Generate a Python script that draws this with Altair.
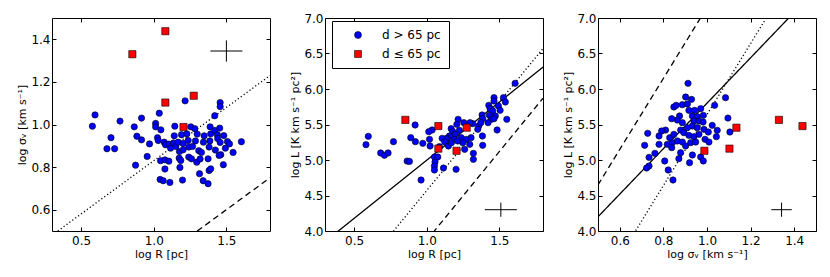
import altair as alt
import numpy as np
import pandas as pd

# ---------------- data ----------------
# Panel 1: log R [pc] vs log sigma_v [km/s], clouds with d > 65 pc
p1_logR = [0.596, 0.578, 0.706, 0.678, 0.731, 0.768, 0.866, 0.884, 0.916, 0.916,
           0.875, 0.955, 0.971, 1.013, 1.013, 1.038, 1.216, 1.049, 1.420, 1.457,
           1.457, 1.026, 1.031, 1.072, 1.081, 1.104, 1.116, 1.136, 1.141, 1.145,
           1.152, 1.168, 1.177, 1.191, 1.202, 1.202, 1.228, 1.237, 1.241, 1.255,
           1.267, 1.283, 1.287, 1.299, 1.310, 1.328, 1.342, 1.347, 1.381, 1.386,
           1.388, 1.392, 1.420, 1.424, 1.438, 1.440, 1.454, 1.457, 1.461, 1.482,
           1.493, 1.507, 1.521, 1.546, 1.603, 1.047, 1.077, 1.104, 1.175, 1.186,
           1.241, 1.260, 1.296, 1.319, 1.374, 1.450, 1.479, 1.077, 1.180, 1.044,
           1.065, 1.111, 1.198, 1.315, 1.340, 1.374, 1.381, 1.392]
p1_logsig = [1.045, 0.992, 0.938, 0.886, 0.886, 1.016, 0.989, 0.945, 1.030, 0.928,
             0.809, 0.850, 0.909, 1.005, 0.989, 1.053, 1.111, 0.975, 1.041, 1.103,
             1.084, 0.938, 0.925, 0.917, 0.905, 0.908, 0.889, 0.913, 0.947, 0.992,
             0.897, 0.917, 0.873, 0.952, 0.911, 0.881, 0.956, 0.925, 0.894, 0.989,
             0.897, 0.980, 0.923, 0.955, 0.877, 0.869, 0.917, 0.947, 0.894, 0.923,
             0.989, 0.956, 0.972, 0.880, 0.952, 0.934, 0.983, 0.916, 0.858, 0.948,
             0.889, 0.920, 0.909, 0.869, 0.919, 0.830, 0.834, 0.828, 0.842, 0.831,
             0.847, 0.839, 0.823, 0.838, 0.839, 0.855, 0.811, 0.791, 0.798, 0.742,
             0.736, 0.728, 0.739, 0.769, 0.736, 0.722, 0.784, 0.792]

# Panel 2: log R [pc] vs log L [K km/s pc^2], d > 65 pc
p2_logR = [1.608, 1.463, 1.463, 1.528, 1.541, 1.427, 1.436, 1.493, 1.505, 1.454,
           1.381, 1.431, 1.472, 1.385, 1.551, 1.445, 1.463, 1.358, 1.372, 1.422,
           1.484, 1.316, 1.351, 1.383, 1.305, 1.216, 1.255, 1.298, 1.207, 1.168,
           1.179, 1.225, 1.195, 1.156, 1.140, 1.191, 1.237, 1.271, 1.248, 1.296,
           1.321, 1.321, 1.385, 1.133, 1.106, 1.124, 1.087, 1.149, 1.170, 1.213,
           1.261, 1.053, 1.076, 1.057, 1.053, 1.053, 1.115, 1.202, 1.037, 1.014,
           1.019, 1.023, 0.973, 0.920, 0.890, 0.922, 0.865, 0.881, 0.961, 0.771,
           0.683, 0.709, 0.734, 0.598, 0.582]
p2_logL = [6.080, 5.878, 5.831, 5.878, 5.817, 5.770, 5.723, 5.761, 5.700, 5.690,
           5.634, 5.629, 5.620, 5.582, 5.573, 5.573, 5.582, 5.479, 5.526, 5.526,
           5.423, 5.512, 5.432, 5.338, 5.315, 5.573, 5.526, 5.526, 5.502, 5.441,
           5.399, 5.418, 5.362, 5.338, 5.305, 5.291, 5.315, 5.291, 5.244, 5.221,
           5.094, 5.009, 5.207, 5.300, 5.305, 5.254, 5.188, 5.197, 5.244, 5.268,
           5.150, 5.042, 5.042, 4.972, 4.915, 4.859, 4.887, 4.869, 5.423, 5.399,
           5.291, 5.197, 5.235, 5.493, 5.315, 5.258, 4.985, 4.980, 4.718, 5.258,
           5.099, 5.066, 5.099, 5.333, 5.216]

# Panel 3: log sigma_v vs log L, d > 65 pc
p3_logsig = [0.913, 0.902, 0.929, 1.085, 0.848, 0.859, 0.887, 0.910, 1.035, 0.917,
             0.943, 0.971, 0.838, 0.874, 0.933, 0.955, 0.983, 1.096, 0.864, 0.887,
             0.940, 0.963, 0.982, 1.024, 0.810, 0.792, 0.910, 0.933, 0.955, 0.986,
             1.047, 1.006, 0.728, 0.780, 0.829, 0.848, 0.879, 0.894, 0.917, 0.940,
             0.963, 0.991, 1.043, 1.105, 0.818, 0.841, 0.864, 0.887, 0.902, 0.925,
             0.948, 0.714, 0.780, 1.009, 0.838, 0.879, 0.933, 0.761, 0.971, 0.983,
             0.734, 0.806, 0.871, 0.920, 0.734, 0.723, 0.822, 0.844]
p3_logL = [6.080, 5.887, 5.854, 5.878, 5.746, 5.770, 5.779, 5.789, 5.770, 5.699,
           5.699, 5.723, 5.582, 5.620, 5.620, 5.610, 5.629, 5.591, 5.563, 5.526,
           5.549, 5.549, 5.535, 5.488, 5.422, 5.408, 5.455, 5.479, 5.455, 5.432,
           5.418, 5.394, 5.376, 5.338, 5.314, 5.361, 5.422, 5.385, 5.347, 5.329,
           5.361, 5.291, 5.329, 5.394, 5.221, 5.244, 5.268, 5.253, 5.197, 5.244,
           5.253, 5.207, 5.221, 5.253, 5.174, 5.103, 5.070, 5.094, 5.042, 4.986,
           5.037, 4.986, 5.019, 4.962, 4.915, 4.887, 4.859, 4.718]

# Clouds with d <= 65 pc (same five clouds in every panel)
near_logR = [0.853, 1.080, 1.080, 1.275, 1.205]
near_logsig = [1.330, 1.438, 1.103, 1.135, 0.988]
near_logL = [5.565, 5.478, 5.160, 5.455, 5.130]

# Relations drawn in each panel: y = slope * x + intercept
p1_line_style = ["dotted", "dashed"]
p1_line_slope = [0.5, 0.5]
p1_line_icpt = [0.33, -0.15]
p2_line_style = ["solid", "dotted", "dashed"]
p2_line_slope = [1.64, 2.5, 2.5]
p2_line_icpt = [3.357, 2.07, 1.37]
p3_line_style = ["solid", "dotted", "dashed"]
p3_line_slope = [3.2, 5.0, 5.0]
p3_line_icpt = [2.6, 0.64, 2.15]

# Typical error bars (centre and half-widths)
p1_err = dict(x=1.50, y=1.345, dx=0.11, dy=0.05)
p2_err = dict(x=1.51, y=4.30, dx=0.11, dy=0.10)
p3_err = dict(x=1.342, y=4.30, dx=0.047, dy=0.10)

groups = ["d > 65 pc", "d \u2264 65 pc"]
W, H = 218, 213
FONT = "DejaVu Sans"


def points_df(xs, ys, nx, ny):
    a = pd.DataFrame({"x": xs, "y": ys, "group": groups[0], "sz": "far"})
    b = pd.DataFrame({"x": nx, "y": ny, "group": groups[1], "sz": "near"})
    return pd.concat([a, b], ignore_index=True)


def lines_df(styles, slopes, icpts, xdom):
    rows = []
    for s, m, c in zip(styles, slopes, icpts):
        for xv in xdom:
            rows.append({"x": xv, "y": m * xv + c, "style": s})
    return pd.DataFrame(rows)


def err_df(e):
    return pd.DataFrame({
        "x": [e["x"] - e["dx"], e["x"]],
        "x2": [e["x"] + e["dx"], e["x"]],
        "y": [e["y"], e["y"] - e["dy"]],
        "y2": [e["y"], e["y"] + e["dy"]],
    })


def panel(pts, lines, err, xdom, ydom, xvals, yvals, xtitle, ytitle, show_legend):
    xs = alt.Scale(domain=xdom, nice=False, zero=False)
    ys = alt.Scale(domain=ydom, nice=False, zero=False)
    ax_main_x = alt.Axis(values=xvals, format=".1f", title=xtitle, ticks=False,
                         domain=False, grid=False, labelPadding=4, titlePadding=2,
                         labelFontSize=12, titleFontSize=11, labelFlush=False)
    ax_main_y = alt.Axis(values=yvals, format=".1f", title=ytitle, ticks=False,
                         domain=False, grid=False, labelPadding=2, titlePadding=3,
                         labelFontSize=12, titleFontSize=11, labelFlush=False)

    def tick_axis(orient, offset, vals):
        return alt.Axis(orient=orient, offset=offset, values=vals, labels=False,
                        title=None, ticks=True, tickSize=4, tickWidth=1,
                        domain=False, grid=False)

    if show_legend:
        leg = alt.Legend(title=None, orient="none", legendX=7, legendY=3,
                         strokeColor="black", fillColor="white", padding=8,
                         symbolSize=48, symbolStrokeColor="black",
                         symbolStrokeWidth=0.6, labelFontSize=12, labelOffset=18,
                         symbolOffset=12, rowPadding=7, labelFont=FONT,
                         labelColor="black", cornerRadius=0)
    else:
        leg = None

    pts_layer = alt.Chart(pts).mark_point(filled=True, opacity=1, stroke="black",
                                          strokeWidth=0.6).encode(
        x=alt.X("x:Q", scale=xs, axis=ax_main_x),
        y=alt.Y("y:Q", scale=ys, axis=ax_main_y),
        color=alt.Color("group:N", scale=alt.Scale(domain=groups, range=["#0000ff", "#ff0000"]), legend=leg),
        shape=alt.Shape("group:N", scale=alt.Scale(domain=groups, range=["circle", "square"]), legend=leg),
        size=alt.Size("sz:N", scale=alt.Scale(domain=["far", "near"], range=[40, 52]), legend=None),
    )

    line_layer = alt.Chart(lines).mark_line(clip=True, color="black", strokeWidth=1.3).encode(
        x=alt.X("x:Q", scale=xs, axis=tick_axis("top", -H, xvals)),
        y=alt.Y("y:Q", scale=ys, axis=tick_axis("right", -W, yvals)),
        detail="style:N",
        strokeDash=alt.StrokeDash("style:N", scale=alt.Scale(
            domain=["solid", "dotted", "dashed"], range=[[1, 0], [1.2, 2.4], [6, 4]]), legend=None),
    )

    err_layer = alt.Chart(err).mark_rule(color="black", strokeWidth=1).encode(
        x=alt.X("x:Q", scale=xs, axis=tick_axis("bottom", -H, xvals)),
        x2="x2:Q",
        y=alt.Y("y:Q", scale=ys, axis=tick_axis("left", -W, yvals)),
        y2="y2:Q",
    )

    return alt.layer(line_layer, err_layer, pts_layer).resolve_axis(
        x="independent", y="independent").properties(width=W, height=H)


xR = [0.3, 1.8]
xS = [0.5, 1.5]

c1 = panel(points_df(p1_logR, p1_logsig, near_logR, near_logsig),
           lines_df(p1_line_style, p1_line_slope, p1_line_icpt, xR),
           err_df(p1_err), xR, [0.5, 1.5], [0.5, 1.0, 1.5], [0.6, 0.8, 1.0, 1.2, 1.4],
           "log R [pc]", "log \u03c3\u1d65 [km s\u207b\u00b9]", False)
c2 = panel(points_df(p2_logR, p2_logL, near_logR, near_logL),
           lines_df(p2_line_style, p2_line_slope, p2_line_icpt, xR),
           err_df(p2_err), xR, [4.0, 7.0], [0.5, 1.0, 1.5],
           [4.0, 4.5, 5.0, 5.5, 6.0, 6.5, 7.0],
           "log R [pc]", "log L [K km s\u207b\u00b9 pc\u00b2]", True)
c3 = panel(points_df(p3_logsig, p3_logL, near_logsig, near_logL),
           lines_df(p3_line_style, p3_line_slope, p3_line_icpt, xS),
           err_df(p3_err), xS, [4.0, 7.0], [0.6, 0.8, 1.0, 1.2, 1.4],
           [4.0, 4.5, 5.0, 5.5, 6.0, 6.5, 7.0],
           "log \u03c3\u1d65 [km s\u207b\u00b9]", "log L [K km s\u207b\u00b9 pc\u00b2]", False)

chart = alt.hconcat(c1, c2, c3, spacing=55, bounds="flush").resolve_scale(
    color="independent", shape="independent", size="independent"
).resolve_legend(
    color="independent", shape="independent", size="independent"
).properties(
    padding={"left": 8, "top": 3, "right": 5, "bottom": 5}
).configure_view(stroke="black", strokeWidth=1).configure_axis(
    labelFont=FONT, titleFont=FONT, labelColor="black", titleColor="black",
    tickColor="black", titleFontWeight="normal"
).configure_legend(labelFont=FONT)

chart.save("out.html", embed_options={"renderer": "svg", "actions": False})
